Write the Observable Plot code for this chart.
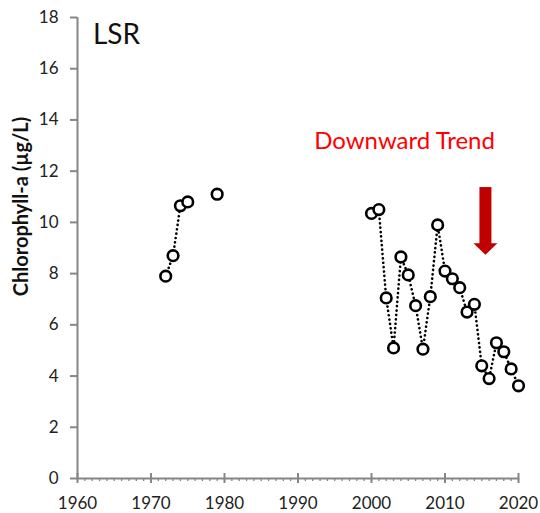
<!DOCTYPE html>
<html>
<head>
<meta charset="utf-8">
<script src="https://cdn.jsdelivr.net/npm/d3@7"></script>
<script src="https://cdn.jsdelivr.net/npm/@observablehq/plot@0.6"></script>
<style>
  html, body { margin: 0; padding: 0; background: #fff; }
  #chart svg { display: block; }
</style>
</head>
<body>
<div id="chart"></div>
<script>
// ---- data ----
const years = [1972, 1973, 1974, 1975, 1979,
  2000, 2001, 2002, 2003, 2004, 2005, 2006, 2007, 2008, 2009, 2010,
  2011, 2012, 2013, 2014, 2015, 2016, 2017, 2018, 2019, 2020];
const chla = [7.9, 8.7, 10.65, 10.8, 11.1,
  10.35, 10.5, 7.05, 5.1, 8.65, 7.95, 6.75, 5.05, 7.1, 9.9, 8.1,
  7.8, 7.45, 6.5, 6.8, 4.4, 3.9, 5.3, 4.95, 4.28, 3.62];
const xTicks = [1960, 1970, 1980, 1990, 2000, 2010, 2020];
const xMinor = d3.range(1960, 2021);
const yTicks = [0, 2, 4, 6, 8, 10, 12, 14, 16, 18];
const siteLabel = [{year: 1962.1, value: 17.3, text: "LSR"}];
const trendLabel = [{year: 2004.5, value: 13.15, text: "Downward Trend"}];
const arrowShaft = [{year: 2015.5, top: 11.36, bottom: 9.1}];
const arrowHead = [{year: 2013.87, value: 9.19}, {year: 2017.13, value: 9.19}, {year: 2015.5, value: 8.74}];
const yLabel = "Chlorophyll-a (µg/L)";

const data = years.map((y, i) => ({year: y, value: chla[i], run: y - i}));

const axisGray = "#868686";
const font = "Lato, 'Open Sans', sans-serif";

const chart = Plot.plot({
  width: 540,
  height: 513,
  marginLeft: 77,
  marginRight: 22,
  marginTop: 17,
  marginBottom: 35,
  style: {fontFamily: font, fontSize: "17px", color: "#222", background: "#fff"},
  x: {domain: [1960, 2020]},
  y: {domain: [0, 18]},
  marks: [
    // minor x ticks (every year)
    Plot.axisX({ticks: xMinor, tickSize: 3, tickFormat: () => "", label: null, stroke: axisGray, strokeWidth: 1.3}),
    // major x ticks + labels
    Plot.axisX({ticks: xTicks, tickSize: 5, tickPadding: 13, tickFormat: "d", stroke: axisGray, strokeWidth: 2, fill: "#222", label: null, fontSize: 17}),
    Plot.ruleX(xTicks, {x: d => d, y1: 0, y2: 0, insetTop: -5, stroke: axisGray, strokeWidth: 2}),
    // y axis
    Plot.axisY({ticks: yTicks, tickSize: 7, tickPadding: 12, stroke: axisGray, strokeWidth: 2, fill: "#222", label: null, fontSize: 17}),
    Plot.ruleX([1960], {stroke: axisGray, strokeWidth: 2}),
    Plot.ruleY([0], {stroke: axisGray, strokeWidth: 2}),
    // y label
    Plot.text([yLabel], {text: d => d, frameAnchor: "left", rotate: -90, dx: -56, dy: -41.5,
      textAnchor: "middle", lineAnchor: "middle",
      fontWeight: "bold", fontSize: 20, fill: "#111"}),
    // dotted connectors between consecutive years
    Plot.line(data, {x: "year", y: "value", z: "run", stroke: "#000", strokeWidth: 2.6,
      strokeDasharray: "0.1,4.3", strokeLinecap: "round"}),
    // points
    Plot.dot(data, {x: "year", y: "value", r: 5.3, stroke: "#000", strokeWidth: 2.6, fill: "#fff"}),
    // annotations
    Plot.text(siteLabel, {x: "year", y: "value", text: "text", textAnchor: "start", lineAnchor: "middle",
      fontSize: 28, fill: "#111"}),
    Plot.text(trendLabel, {x: "year", y: "value", text: "text", textAnchor: "middle", lineAnchor: "middle",
      fontSize: 24, fill: "#ff0000"}),
    Plot.ruleX(arrowShaft, {x: "year", y1: "top", y2: "bottom", stroke: "#c00000", strokeWidth: 12}),
    Plot.line(arrowHead, {x: "year", y: "value", fill: "#c00000", stroke: "none"})
  ]
});
document.getElementById("chart").appendChild(chart);
</script>
</body>
</html>
